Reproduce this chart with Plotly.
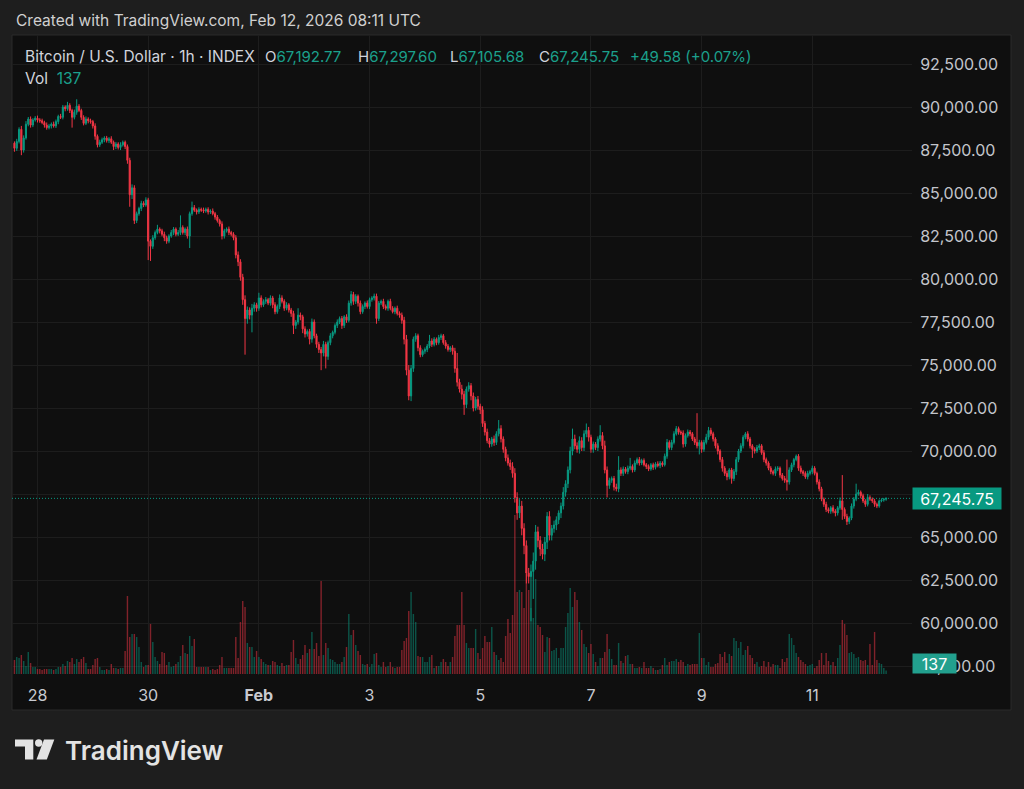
import plotly.graph_objects as go
import pandas as pd

# ---------------- data (hourly BTCUSD INDEX) ----------------
first_time = "2026-01-27 14:00"
first_open = 87900

close = [
    87600, 88000, 88700, 87500, 88200, 89000, 89300, 88950, 89250, 89350, 89250, 89200, 89100, 88950, 88800, 88900, 89000, 88900, 89150, 89450, 89400, 90000, 89900, 90100,
    89800, 89400, 89700, 90050, 89800, 89400, 89050, 89300, 89200, 89150, 88900, 88300, 87800, 87950, 88100, 88200, 88050, 88150, 87950, 87700, 87850, 87650, 87800, 87950,
    87700, 86900, 84900, 85300, 83400, 83800, 84100, 84400, 84300, 84600, 82200, 81900, 82400, 82700, 82900, 82800, 82600, 82400, 82200, 82500, 82700, 82900, 82600, 82700,
    83000, 82700, 82900, 82500, 83800, 84150, 84000, 83900, 84050, 84000, 83950, 84050, 83900, 83950, 83800, 83600, 83400, 83200, 82500, 82800, 82900, 82700, 82600, 82400,
    81400, 81000, 80100, 78800, 77700, 78200, 77900, 78300, 78500, 78300, 78900, 78500, 78700, 78800, 78600, 78900, 78500, 78100, 78400, 78900, 78700, 78300, 78500, 78200,
    78000, 77300, 77500, 77900, 77800, 77100, 76800, 76950, 76500, 77500, 76700, 76200, 75900, 75700, 76200, 75500, 76300, 76700, 76900, 77300, 77500, 77700, 77300, 77800,
    77600, 78600, 79100, 78700, 79000, 78600, 78100, 78400, 78600, 78400, 78800, 78900, 79000, 77700, 78600, 78700, 78400, 78300, 78700, 78300, 78100, 78300, 78000, 77900,
    77600, 76500, 74700, 73200, 74800, 76500, 76700, 76000, 75600, 75800, 75900, 76100, 76400, 76200, 76500, 76300, 76600, 76700, 76300, 76100, 75900, 76000, 75800, 74800,
    74000, 73600, 73300, 72700, 73600, 73800, 73200, 72500, 73000, 72600, 72400, 71600, 71100, 70600, 70400, 70700, 70500, 71000, 71300, 70700, 70100, 69600, 69300, 69100,
    68700, 67300, 66400, 66800, 65500, 64500, 62900, 62700, 63000, 63600, 65300, 64800, 64300, 64000, 64700, 66200, 65100, 65500, 65700, 66000, 66400, 66800, 67600, 68100,
    68900, 70000, 70700, 70300, 70100, 70600, 70200, 71000, 71200, 70800, 70100, 70400, 70200, 70700, 70900, 70300, 68900, 68000, 68300, 68400, 67900, 67800, 68900, 68700,
    68950, 68800, 69000, 69100, 68900, 69300, 69500, 69300, 69450, 69200, 69100, 68950, 69200, 69050, 69250, 69150, 69300, 69200, 69700, 70500, 70200, 70500, 71000, 71300,
    71100, 71050, 70400, 70900, 71100, 71000, 70700, 70500, 70300, 70500, 70100, 70500, 70800, 71200, 71000, 70700, 70300, 70000, 69500, 69000, 68700, 68500, 68900, 68400,
    68800, 69500, 70000, 70300, 70800, 71000, 70700, 70300, 70100, 70000, 70200, 70300, 69900, 69500, 69300, 69000, 68800, 68700, 68950, 69000, 68600, 68400, 68300, 68200,
    68900, 69200, 69500, 69700, 69000, 68800, 68700, 68500, 68700, 68800, 69000, 68700, 68200, 67800, 67200, 66900, 66600, 66500, 66700, 66500, 66400, 66700, 67100, 66600,
    66200, 65900, 66100, 66800, 67200, 67500, 67600, 67400, 67100, 66900, 67300, 67200, 67100, 66900, 66800, 67100, 67150, 67192.77, 67245.75,
]

# upper / lower wick lengths in USD beyond the candle body
wick_up = [
    100, 150, 120, 200, 150, 180, 120, 150, 100, 120, 150, 100, 120, 100, 150, 120, 100, 150, 120, 100, 150, 120, 100, 200,
    120, 100, 150, 400, 120, 100, 120, 150, 100, 120, 100, 150, 100, 150, 120, 100, 120, 100, 150, 100, 120, 100, 150, 100,
    100, 120, 150, 200, 150, 120, 100, 150, 120, 150, 120, 100, 150, 120, 250, 100, 120, 150, 120, 100, 150, 120, 100, 150,
    700, 120, 100, 150, 120, 350, 150, 100, 120, 100, 150, 100, 120, 100, 150, 100, 120, 100, 150, 120, 100, 150, 100, 120,
    150, 200, 150, 200, 250, 200, 150, 250, 150, 120, 300, 150, 120, 150, 100, 150, 120, 150, 120, 200, 150, 120, 150, 100,
    120, 150, 120, 400, 150, 120, 150, 120, 150, 200, 150, 120, 150, 150, 200, 150, 120, 150, 100, 120, 150, 120, 150, 100,
    150, 150, 200, 150, 120, 100, 150, 120, 100, 150, 120, 100, 150, 150, 120, 100, 150, 120, 100, 150, 120, 100, 150, 120,
    150, 200, 250, 300, 200, 150, 150, 120, 150, 100, 120, 120, 350, 150, 120, 100, 150, 120, 100, 150, 120, 100, 150, 200,
    900, 200, 250, 200, 150, 200, 150, 200, 150, 200, 150, 200, 150, 200, 150, 120, 200, 150, 500, 200, 150, 150, 200, 200,
    250, 300, 300, 400, 300, 300, 300, 300, 400, 500, 400, 300, 250, 300, 300, 250, 300, 200, 250, 200, 150, 200, 300, 200,
    200, 250, 600, 250, 200, 250, 200, 200, 400, 200, 150, 150, 120, 150, 600, 200, 300, 200, 150, 120, 150, 200, 800, 150,
    150, 120, 150, 500, 120, 150, 120, 150, 100, 120, 100, 120, 100, 120, 100, 150, 120, 100, 150, 200, 120, 150, 150, 150,
    120, 100, 150, 120, 150, 120, 100, 120, 1700, 150, 120, 150, 200, 200, 150, 120, 100, 150, 100, 150, 120, 150, 100, 120,
    150, 150, 120, 150, 120, 100, 150, 120, 100, 120, 150, 120, 100, 150, 120, 100, 120, 100, 150, 120, 100, 120, 150, 1200,
    150, 120, 100, 100, 120, 150, 100, 120, 150, 100, 150, 120, 100, 150, 120, 100, 150, 120, 100, 150, 120, 100, 200, 1500,
    120, 150, 100, 150, 120, 600, 150, 100, 120, 100, 200, 120, 100, 120, 100, 80, 100, 80, 51.85,
]
wick_dn = [
    200, 150, 120, 300, 150, 100, 120, 150, 120, 100, 150, 120, 100, 150, 120, 100, 150, 100, 120, 150, 100, 120, 150, 120,
    150, 600, 120, 150, 100, 150, 120, 100, 150, 120, 150, 200, 150, 120, 100, 150, 120, 150, 100, 200, 150, 120, 150, 100,
    150, 200, 700, 250, 200, 150, 120, 150, 120, 100, 1100, 850, 150, 120, 100, 150, 120, 200, 150, 120, 100, 150, 120, 100,
    150, 120, 150, 150, 700, 120, 100, 150, 120, 100, 120, 100, 150, 120, 100, 150, 120, 150, 200, 150, 100, 150, 120, 150,
    200, 250, 200, 300, 2100, 300, 250, 1000, 200, 200, 150, 150, 120, 150, 120, 150, 200, 150, 120, 150, 120, 150, 120, 150,
    200, 500, 200, 150, 200, 250, 200, 150, 300, 200, 150, 200, 200, 1000, 200, 700, 200, 150, 150, 120, 150, 120, 200, 150,
    150, 120, 150, 200, 150, 200, 150, 120, 150, 120, 150, 120, 150, 300, 150, 120, 150, 120, 150, 120, 100, 150, 120, 150,
    200, 300, 300, 250, 300, 200, 150, 200, 150, 120, 150, 150, 120, 150, 120, 150, 120, 150, 120, 150, 120, 150, 200, 250,
    250, 200, 300, 600, 200, 150, 250, 200, 150, 200, 250, 200, 200, 150, 200, 150, 200, 150, 150, 200, 200, 200, 150, 200,
    250, 300, 400, 300, 400, 500, 600, 400, 2600, 1600, 500, 400, 400, 300, 400, 400, 300, 300, 250, 300, 250, 300, 200, 250,
    250, 200, 250, 200, 200, 250, 200, 200, 200, 250, 200, 200, 150, 200, 150, 200, 200, 700, 200, 150, 200, 150, 200, 150,
    150, 120, 150, 120, 150, 120, 100, 150, 120, 100, 150, 120, 100, 150, 120, 100, 150, 120, 100, 150, 120, 150, 120, 100,
    150, 120, 200, 150, 120, 150, 120, 150, 150, 500, 200, 150, 120, 150, 120, 150, 150, 200, 150, 200, 150, 200, 150, 300,
    150, 200, 150, 120, 150, 120, 150, 150, 500, 150, 120, 150, 120, 150, 150, 120, 150, 120, 150, 120, 150, 120, 150, 500,
    150, 120, 150, 100, 150, 120, 150, 120, 150, 120, 150, 120, 150, 150, 120, 150, 150, 120, 150, 120, 200, 150, 120, 600,
    150, 200, 150, 120, 150, 120, 100, 150, 120, 150, 120, 100, 120, 150, 120, 100, 80, 100, 87.09,
]

volume = [
    560, 680, 640, 760, 520, 320, 880, 440, 280, 280, 200, 200, 160, 200, 200, 200, 200, 160, 200, 280, 280, 400, 320, 520,
    480, 640, 400, 600, 480, 600, 680, 440, 200, 200, 360, 600, 640, 280, 160, 160, 200, 160, 400, 240, 240, 200, 240, 240,
    920, 3120, 1480, 1600, 1600, 1480, 1080, 480, 280, 360, 360, 2000, 1280, 680, 520, 400, 880, 840, 360, 480, 280, 320, 400, 480,
    720, 1160, 840, 800, 1520, 1120, 1400, 280, 280, 280, 280, 280, 280, 160, 200, 160, 200, 360, 680, 240, 240, 240, 240, 240,
    1480, 640, 2080, 2920, 2680, 1240, 1080, 1080, 680, 920, 680, 600, 480, 400, 360, 360, 520, 480, 360, 320, 440, 320, 360, 360,
    880, 1360, 640, 400, 600, 760, 1160, 840, 1000, 1680, 1000, 1240, 720, 3720, 760, 1240, 1040, 600, 560, 480, 400, 400, 480, 680,
    1080, 2400, 1560, 1760, 1160, 920, 760, 400, 360, 400, 280, 400, 800, 840, 360, 280, 480, 280, 320, 480, 280, 240, 280, 280,
    960, 1320, 1440, 2520, 3280, 2400, 2080, 720, 680, 680, 480, 480, 680, 760, 240, 320, 320, 480, 600, 480, 320, 480, 680, 1520,
    1960, 1960, 3280, 1960, 1240, 1040, 1040, 1040, 1800, 840, 600, 1040, 1520, 1280, 1280, 1880, 880, 760, 560, 640, 480, 1520, 2200, 1640,
    2360, 6360, 3280, 3360, 3280, 2640, 4000, 3360, 2640, 2240, 3800, 1960, 1880, 1560, 880, 1480, 1440, 920, 960, 1040, 640, 1040, 1040, 1880,
    2440, 3440, 2680, 3280, 2960, 2080, 1760, 1200, 1080, 840, 1200, 800, 480, 320, 640, 640, 880, 1600, 1000, 600, 360, 360, 1240, 520,
    440, 720, 760, 400, 400, 240, 240, 280, 240, 480, 240, 240, 320, 240, 160, 160, 200, 360, 640, 360, 480, 520, 520, 600,
    480, 560, 480, 320, 400, 360, 400, 400, 400, 1640, 640, 640, 360, 480, 280, 280, 400, 440, 800, 680, 880, 440, 800, 720,
    1440, 1320, 1040, 1280, 760, 960, 1120, 760, 640, 400, 480, 280, 320, 520, 280, 480, 280, 400, 360, 360, 240, 600, 480, 640,
    1600, 1440, 1160, 840, 680, 560, 480, 400, 320, 360, 400, 240, 320, 560, 840, 360, 840, 520, 360, 480, 320, 640, 1160, 2160,
    2000, 1560, 840, 880, 800, 640, 680, 560, 520, 560, 360, 1200, 360, 1680, 560, 440, 400, 240, 137,
]

price_ticks = [57500, 60000, 62500, 65000, 67500, 70000, 72500, 75000, 77500, 80000, 82500, 85000, 87500, 90000, 92500]
date_ticks = ["2026-01-28", "2026-01-30", "2026-02-01", "2026-02-03", "2026-02-05", "2026-02-07", "2026-02-09", "2026-02-11"]
date_labels = ["28", "30", "<b>Feb</b>", "3", "5", "7", "9", "11"]

assert len(close) == len(wick_up) == len(wick_dn) == len(volume), (len(close), len(wick_up), len(wick_dn), len(volume))

# ---------------- derived series ----------------
times = pd.date_range(first_time, periods=len(close), freq="h")
opens = [first_open] + close[:-1]
highs = [max(o, c) + u for o, c, u in zip(opens, close, wick_up)]
lows = [min(o, c) - d for o, c, d in zip(opens, close, wick_dn)]

UP = "#089981"
DOWN = "#F23645"
UP_VOL = "rgba(8,153,129,0.5)"
DOWN_VOL = "rgba(242,54,69,0.5)"
vol_colors = [UP_VOL if c >= o else DOWN_VOL for o, c in zip(opens, close)]

# ---------------- geometry ----------------
W, H = 1024, 789
L_PX, R_PX, T_PX, B_PX = 12, 912, 35, 675
PW, PH = R_PX - L_PX, B_PX - T_PX


def fx(px):
    return (px - L_PX) / PW


def fy(py):
    return (B_PX - py) / PH


def price_at(py):
    return 92500 - (py - 64) * 2500 / 43


t_ref = pd.Timestamp("2026-01-28 00:00")
PX_PER_HOUR = 2.306


def time_at(px):
    return t_ref + pd.Timedelta(hours=(px - 37.5) / PX_PER_HOUR)


VOL_PER_PX = 40

FONT = "Inter, Roboto, sans-serif"
TXT = "#d1d4dc"
AXIS_TXT = "#c3c5cb"
GRID = "#1d1d1d"
TEAL_TXT = "#1ba08c"

fig = go.Figure()
fig.add_trace(go.Bar(
    x=times, y=volume, marker=dict(color=vol_colors, line=dict(width=0)),
    width=3600000 * 0.62, yaxis="y2", hoverinfo="skip", showlegend=False,
))
fig.add_trace(go.Candlestick(
    x=times, open=opens, high=highs, low=lows, close=close,
    increasing=dict(line=dict(color=UP, width=1), fillcolor=UP),
    decreasing=dict(line=dict(color=DOWN, width=1), fillcolor=DOWN),
    whiskerwidth=0, hoverinfo="skip", showlegend=False,
))

annotations = []


def add_text(text, px, py, size=15.5, color=TXT, anchor="left", **kw):
    annotations.append(dict(
        text=text, x=fx(px), y=fy(py), xref="paper", yref="paper",
        xanchor=anchor, yanchor="middle", showarrow=False,
        font=dict(family=FONT, size=size, color=color), **kw,
    ))


def teal(s):
    return f"<span style='color:{TEAL_TXT}'>{s}</span>"


add_text("Created with TradingView.com, Feb 12, 2026 08:11 UTC", 14, 20, size=15.5, color="#d0d0d0")
add_text("Bitcoin / U.S. Dollar · 1h · INDEX", 23, 56)
add_text("O" + teal("67,192.77"), 263, 56, size=15)
add_text("H" + teal("67,297.60"), 356, 56, size=15)
add_text("L" + teal("67,105.68"), 448, 56, size=15)
add_text("C" + teal("67,245.75"), 537, 56, size=15)
add_text(teal("+49.58 (+0.07%)"), 628, 56, size=15)
add_text("Vol&nbsp;&nbsp;" + teal("137"), 23, 79)

# last price label and volume label on the price scale
annotations.append(dict(
    text="67,245.75", x=fx(912), y=close[-1], xref="paper", yref="y",
    xanchor="left", yanchor="middle", showarrow=False, bgcolor=UP,
    width=88, height=21, borderpad=0, align="center",
    font=dict(family=FONT, size=16, color="#ffffff"),
))
annotations.append(dict(
    text=str(volume[-1]), x=fx(912), y=fy(663), xref="paper", yref="paper",
    xanchor="left", yanchor="middle", showarrow=False, bgcolor="#22a08e",
    width=43, height=19, borderpad=0, align="center",
    font=dict(family=FONT, size=16, color="#ffffff"),
))

# TradingView wordmark
annotations.append(dict(
    text="TradingView", x=fx(63), y=fy(750), xref="paper", yref="paper",
    xanchor="left", yanchor="middle", showarrow=False,
    font=dict(family=FONT, size=26, color="#e3e3e3", weight=600),
))

shapes = [
    # chart panel
    dict(type="rect", xref="paper", yref="paper", x0=fx(12), x1=fx(1011), y0=fy(710), y1=fy(35),
         fillcolor="#0f0f0f", line=dict(color="#2b2b2b", width=1), layer="below"),
    # last price dotted line
    dict(type="line", xref="paper", yref="y", x0=0, x1=1, y0=close[-1], y1=close[-1],
         line=dict(color=UP, width=1, dash="1px,2px"), layer="above"),
    # logo icon
    dict(type="path", xref="paper", yref="paper",
         path=f"M {fx(15)},{fy(739.5)} L {fx(33.3)},{fy(739.5)} L {fx(33.3)},{fy(759.5)} L {fx(25)},{fy(759.5)} "
              f"L {fx(25)},{fy(746.5)} L {fx(15)},{fy(746.5)} Z",
         fillcolor="#e3e3e3", line=dict(width=0)),
    dict(type="circle", xref="paper", yref="paper", x0=fx(35), x1=fx(42.4), y0=fy(746.7), y1=fy(739.3),
         fillcolor="#e3e3e3", line=dict(width=0)),
    dict(type="path", xref="paper", yref="paper",
         path=f"M {fx(44)},{fy(739.5)} L {fx(54.3)},{fy(739.5)} L {fx(46.8)},{fy(759.5)} L {fx(36.5)},{fy(759.5)} Z",
         fillcolor="#e3e3e3", line=dict(width=0)),
]

fig.update_layout(
    width=W, height=H, autosize=False,
    margin=dict(l=L_PX, r=W - R_PX, t=T_PX, b=H - B_PX, pad=0),
    paper_bgcolor="#1e1e1e", plot_bgcolor="#0f0f0f",
    font=dict(family=FONT, color=AXIS_TXT, size=16),
    showlegend=False, hovermode=False,
    xaxis=dict(
        type="date", range=[time_at(L_PX), time_at(R_PX)],
        rangeslider=dict(visible=False),
        tickvals=date_ticks, ticktext=date_labels,
        showgrid=True, gridcolor=GRID, gridwidth=1,
        ticks="outside", ticklen=6, tickcolor="rgba(0,0,0,0)",
        tickfont=dict(family=FONT, size=16, color="#c8cad0"),
        zeroline=False, showline=False, fixedrange=True,
    ),
    yaxis=dict(
        side="right", range=[price_at(B_PX), price_at(T_PX)],
        tickvals=price_ticks, ticktext=[f"{v:,.2f}" for v in price_ticks],
        showgrid=True, gridcolor=GRID, gridwidth=1,
        ticks="outside", ticklen=4, tickcolor="rgba(0,0,0,0)",
        tickfont=dict(family=FONT, size=16, color=AXIS_TXT),
        zeroline=False, showline=False, fixedrange=True,
    ),
    yaxis2=dict(
        overlaying="y", range=[-VOL_PER_PX, (PH - 1) * VOL_PER_PX],
        visible=False, fixedrange=True,
    ),
    annotations=annotations,
    shapes=shapes,
)

fig.write_html("out.html", post_script="document.body.style.margin='0';document.body.style.padding='0';")
